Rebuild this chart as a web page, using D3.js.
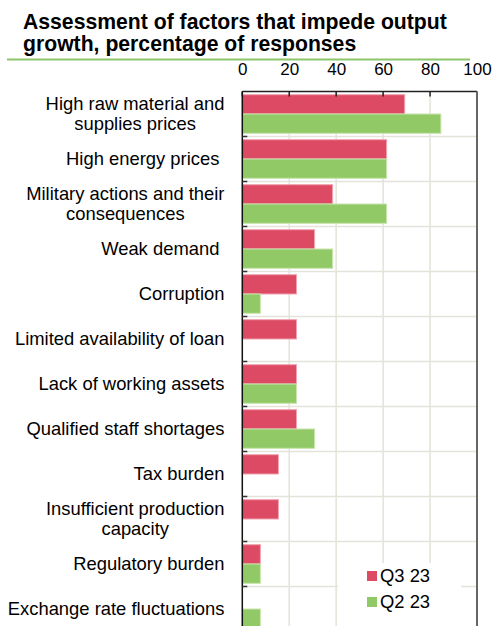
<!DOCTYPE html>
<html>
<head>
<meta charset="utf-8">
<script src="https://cdn.jsdelivr.net/npm/d3@7"></script>
<style>
html,body{margin:0;padding:0;background:#fff;}
svg{display:block;font-family:"Liberation Sans",Arial,sans-serif;}
</style>
</head>
<body>
<svg id="chart" width="492" height="626"></svg>
<script>
const categories = [
  "High raw material and\nsupplies prices",
  "High energy prices ",
  "Military actions and their\nconsequences",
  "Weak demand ",
  "Corruption",
  "Limited availability of loan",
  "Lack of working assets",
  "Qualified staff shortages",
  "Tax burden",
  "Insufficient production\ncapacity",
  "Regulatory burden",
  "Exchange rate fluctuations"
];
const q3_23 = [69.2, 61.5, 38.5, 30.8, 23.1, 23.1, 23.1, 23.1, 15.4, 15.4, 7.7, 0];
const q2_23 = [84.6, 61.5, 61.5, 38.5, 7.7, 0, 23.1, 30.8, 0, 0, 7.7, 7.7];
const seriesNames = ["Q3 23", "Q2 23"];
const seriesColors = ["#dc4a63", "#92c967"];
const seriesStroke = ["#f2a3b1", "#c8e6ad"];
const xTicks = [0, 20, 40, 60, 80, 100];
const titleLines = ["Assessment of factors that impede output", "growth, percentage of responses"];

(function () {
const svg = d3.select("#chart");
const pL = 242.3, pR = 477, pT = 91.5, band = 45;

const x = d3.scaleLinear().domain([0, 100]).range([pL, pR]);
const y = d3.scaleBand().domain(d3.range(categories.length))
  .range([pT, pT + band * categories.length]).paddingInner(0).paddingOuter(0);
const inner = d3.scaleBand().domain([0, 1]).range([0, y.bandwidth()]).paddingOuter(0.165).paddingInner(0);

// title
svg.append("g").selectAll("text").data(titleLines).join("text")
  .attr("x", 23).attr("y", (d, i) => 28.5 + i * 22.5)
  .attr("font-size", 21.2).attr("font-weight", "bold").attr("fill", "#000")
  .text(d => d);
svg.append("line").attr("x1", 7).attr("x2", 470).attr("y1", 59.5).attr("y2", 59.5)
  .attr("stroke", "#8cc56a").attr("stroke-width", 2);

// gridlines
const grid = svg.append("g");
grid.selectAll("line.v").data(xTicks.slice(1, -1)).join("line")
  .attr("x1", d => x(d)).attr("x2", d => x(d)).attr("y1", pT).attr("y2", 626)
  .attr("stroke", "#e3e3da").attr("stroke-width", 1.5);
grid.selectAll("line.h").data(d3.range(1, categories.length)).join("line")
  .attr("x1", pL).attr("x2", pR).attr("y1", d => y(d)).attr("y2", d => y(d))
  .attr("stroke", "#e3e3da").attr("stroke-width", 1.5);

// bars
const data = categories.map((c, i) => ({i, vals: [q3_23[i], q2_23[i]]}));
const groups = svg.append("g").selectAll("g").data(data).join("g")
  .attr("transform", d => `translate(0,${y(d.i)})`);
groups.selectAll("rect").data(d => d.vals.map((v, s) => ({v, s})).filter(e => e.v > 0)).join("rect")
  .attr("x", x(0)).attr("y", d => inner(d.s))
  .attr("width", d => x(d.v) - x(0)).attr("height", inner.bandwidth())
  .attr("fill", d => seriesColors[d.s])
  .attr("stroke", d => seriesStroke[d.s]).attr("stroke-width", 1);

// top axis
const xAxis = d3.axisTop(x).tickValues(xTicks).tickSize(0).tickPadding(16.5);
const xg = svg.append("g").attr("transform", `translate(0,${pT})`).call(xAxis);
xg.select(".domain").remove();
xg.selectAll("text").attr("font-size", 17).attr("font-family", "Liberation Sans, Arial, sans-serif").attr("fill", "#000");
svg.append("line").attr("x1", pL).attr("x2", pR).attr("y1", pT).attr("y2", pT)
  .attr("stroke", "#222").attr("stroke-width", 1.5);
svg.append("g").selectAll("line").data(xTicks).join("line")
  .attr("x1", d => x(d)).attr("x2", d => x(d)).attr("y1", pT).attr("y2", pT + 5)
  .attr("stroke", "#222").attr("stroke-width", 1.5);
// right border
svg.append("line").attr("x1", pR).attr("x2", pR).attr("y1", pT).attr("y2", 626)
  .attr("stroke", "#666").attr("stroke-width", 2);

// left axis
svg.append("line").attr("x1", pL).attr("x2", pL).attr("y1", pT).attr("y2", 626)
  .attr("stroke", "#111").attr("stroke-width", 1.5);
svg.append("g").selectAll("line").data(d3.range(1, categories.length)).join("line")
  .attr("x1", pL).attr("x2", pL + 5).attr("y1", d => y(d)).attr("y2", d => y(d))
  .attr("stroke", "#333").attr("stroke-width", 1.5);

// category labels
const labelRight = 224.5;
const lbl = svg.append("g").attr("font-size", 18.4).attr("fill", "#000");
categories.forEach((c, i) => {
  const lines = c.split("\n");
  const cy = y(i) + y.bandwidth() / 2;
  const t = lbl.append("text").attr("style", "white-space:pre");
  const spans = lines.map((ln, k) => t.append("tspan")
    .attr("y", cy + (k - (lines.length - 1) / 2) * 20)
    .attr("dy", "0.35em").text(ln));
  const widths = spans.map(s => s.node().getComputedTextLength());
  const maxW = d3.max(widths);
  const cx = labelRight - maxW / 2;
  spans.forEach(s => s.attr("x", cx).attr("text-anchor", "middle"));
});

// legend
const lg = svg.append("g");
lg.append("rect").attr("x", 338).attr("y", 563).attr("width", 123).attr("height", 70).attr("fill", "#fff");
seriesNames.forEach((n, s) => {
  lg.append("rect").attr("x", 367).attr("y", 571 + s * 26).attr("width", 10).attr("height", 10)
    .attr("fill", seriesColors[s]);
  lg.append("text").attr("x", 380).attr("y", 582 + s * 26).attr("font-size", 18.4).attr("fill", "#000").text(n);
});
})();
</script>
</body>
</html>
